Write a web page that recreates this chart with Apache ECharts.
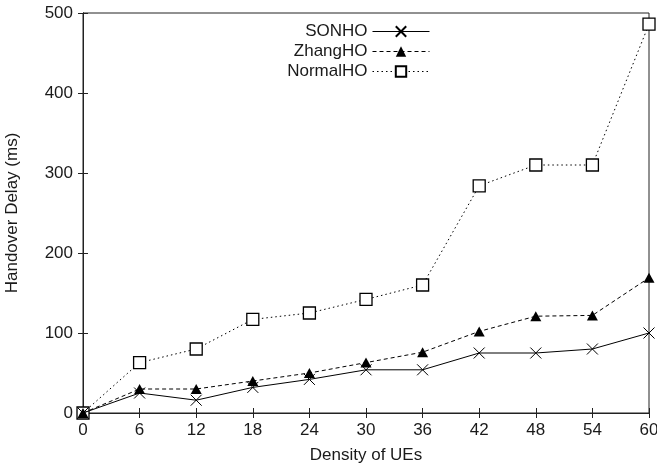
<!DOCTYPE html>
<html>
<head>
<meta charset="utf-8">
<script src="https://cdn.jsdelivr.net/npm/echarts@6/dist/echarts.min.js"></script>
<style>html,body{margin:0;padding:0;background:#fff}#c{width:657px;height:469px}</style>
</head>
<body>
<div id="c"></div>
<script>
const xValues = [0, 6, 12, 18, 24, 30, 36, 42, 48, 54, 60];
const sonho = [0, 25, 16, 32, 42, 54, 54, 75, 75, 80, 100];
const zhangho = [0, 30, 30, 40, 50, 63, 76, 102, 121, 122, 169];
const normalho = [0, 63, 80, 117, 125, 142, 160, 284, 310, 310, 486];
const seriesNames = ['SONHO', 'ZhangHO', 'NormalHO'];
const xTitle = 'Density of UEs';
const yTitle = 'Handover Delay (ms)';

const pair = arr => xValues.map((x, i) => [x, arr[i]]);
const FONT = 'Liberation Sans, Arial, sans-serif';
const TXT = '#1a1a1a';
const AX = '#222';
const FS = 17;

const chart = echarts.init(document.getElementById('c'), null, {renderer: 'canvas'});
const tickCommon = {show: true, inside: true, length: 5, lineStyle: {color: AX, width: 1}};
chart.setOption({
  animation: false,
  backgroundColor: '#fff',
  grid: {left: 83, right: 8, top: 13, bottom: 56, show: true, borderColor: AX, borderWidth: 1, containLabel: false, outerBoundsMode: 'none'},
  legend: {
    orient: 'vertical', right: 222, top: 18, align: 'right',
    itemWidth: 57, itemHeight: 13, itemGap: 3,
    lineStyle: {width: 1},
    textStyle: {fontFamily: FONT, fontSize: FS, color: TXT, lineHeight: 14},
    data: seriesNames
  },
  xAxis: [{
    type: 'value', min: 0, max: 60, interval: 6, position: 'bottom',
    name: xTitle, nameLocation: 'middle', nameGap: 34,
    nameTextStyle: {fontFamily: FONT, fontSize: FS, color: TXT},
    axisLine: {show: true, lineStyle: {color: AX, width: 1}},
    axisTick: tickCommon,
    axisLabel: {fontFamily: FONT, fontSize: FS, color: TXT, margin: 9},
    splitLine: {show: false}
  }, {
    type: 'value', min: 0, max: 60, interval: 6, position: 'top',
    axisLine: {show: true, lineStyle: {color: AX, width: 1}},
    axisTick: tickCommon, axisLabel: {show: false}, splitLine: {show: false}
  }],
  yAxis: [{
    type: 'value', min: 0, max: 500, interval: 100, position: 'left',
    name: yTitle, nameLocation: 'middle', nameGap: 62, nameRotate: 90,
    nameTextStyle: {fontFamily: FONT, fontSize: FS, color: TXT},
    axisLine: {show: true, lineStyle: {color: AX, width: 1}},
    axisTick: tickCommon,
    axisLabel: {fontFamily: FONT, fontSize: FS, color: TXT, margin: 10},
    splitLine: {show: false}
  }, {
    type: 'value', min: 0, max: 500, interval: 100, position: 'right',
    axisLine: {show: true, lineStyle: {color: AX, width: 1}},
    axisTick: tickCommon, axisLabel: {show: false}, splitLine: {show: false}
  }],
  series: [{
    name: seriesNames[0], type: 'line', data: pair(sonho),
    symbol: 'path://M0,0L10,10M10,0L0,10', symbolSize: 11,
    lineStyle: {color: '#000', width: 1, type: 'solid'},
    itemStyle: {color: '#000', borderColor: '#000', borderWidth: 1},
    z: 4
  }, {
    name: seriesNames[1], type: 'line', data: pair(zhangho),
    symbol: 'triangle', symbolSize: [11, 10],
    lineStyle: {color: '#000', width: 1, type: [4, 3]},
    itemStyle: {color: '#000'},
    z: 3
  }, {
    name: seriesNames[2], type: 'line', data: pair(normalho),
    symbol: 'rect', symbolSize: 12,
    lineStyle: {color: '#000', width: 1, type: [1.5, 3]},
    itemStyle: {color: '#fff', borderColor: '#000', borderWidth: 1.3},
    z: 2
  }]
});
</script>
</body>
</html>
